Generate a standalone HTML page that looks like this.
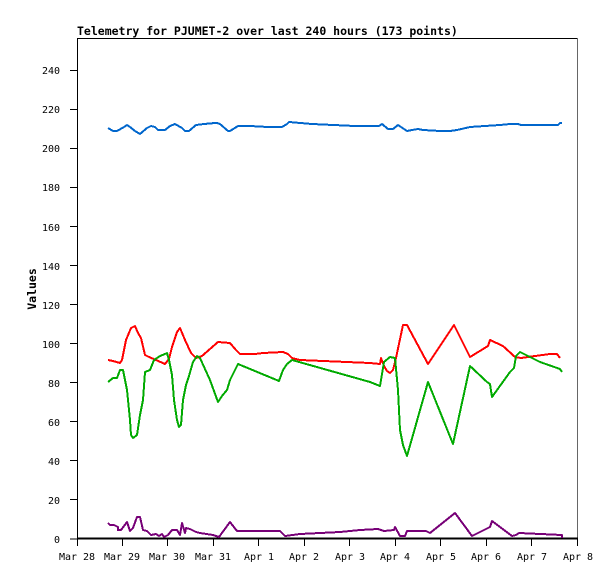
<!DOCTYPE html>
<html><head><meta charset="utf-8"><style>
html,body{margin:0;padding:0;background:#fff;width:615px;height:579px;overflow:hidden}
svg text{font-family:"DejaVu Sans Mono","Liberation Mono",monospace;font-size:10px;fill:#000}
</style></head><body>
<svg width="615" height="579" xmlns="http://www.w3.org/2000/svg">
<text x="77" y="35" style="font-weight:bold;font-size:11.5px">Telemetry for PJUMET-2 over last 240 hours (173 points)</text>
<text transform="translate(36,289) rotate(-90)" text-anchor="middle" style="font-weight:bold;font-size:11.5px">Values</text>
<g shape-rendering="crispEdges">
<line x1="77.5" y1="38" x2="77.5" y2="539" stroke="#000"/>
<line x1="77" y1="38.5" x2="578" y2="38.5" stroke="#000"/>
<line x1="577.5" y1="38" x2="577.5" y2="545" stroke="#666"/>
<g stroke="#000" stroke-width="1">
<line x1="70" y1="539" x2="77" y2="539"/><line x1="70" y1="499.5" x2="77" y2="499.5"/><line x1="70" y1="460.5" x2="77" y2="460.5"/><line x1="70" y1="421.5" x2="77" y2="421.5"/><line x1="70" y1="382.5" x2="77" y2="382.5"/><line x1="70" y1="343.5" x2="77" y2="343.5"/><line x1="70" y1="304.5" x2="77" y2="304.5"/><line x1="70" y1="265.5" x2="77" y2="265.5"/><line x1="70" y1="226.5" x2="77" y2="226.5"/><line x1="70" y1="187.5" x2="77" y2="187.5"/><line x1="70" y1="148.5" x2="77" y2="148.5"/><line x1="70" y1="109.5" x2="77" y2="109.5"/><line x1="70" y1="70.5" x2="77" y2="70.5"/>
</g>
<g stroke="#000">
<line x1="77.5" y1="539" x2="77.5" y2="546"/><line x1="122.5" y1="539" x2="122.5" y2="546"/><line x1="167.5" y1="539" x2="167.5" y2="546"/><line x1="213.5" y1="539" x2="213.5" y2="546"/><line x1="258.5" y1="539" x2="258.5" y2="546"/><line x1="304.5" y1="539" x2="304.5" y2="546"/><line x1="349.5" y1="539" x2="349.5" y2="546"/><line x1="395.5" y1="539" x2="395.5" y2="546"/><line x1="440.5" y1="539" x2="440.5" y2="546"/><line x1="486.5" y1="539" x2="486.5" y2="546"/><line x1="531.5" y1="539" x2="531.5" y2="546"/><line x1="577.5" y1="539" x2="577.5" y2="546"/>
</g>
</g>
<g text-anchor="end">
<text x="60" y="543">0</text><text x="60" y="504">20</text><text x="60" y="465">40</text><text x="60" y="426">60</text><text x="60" y="387">80</text><text x="60" y="348">100</text><text x="60" y="309">120</text><text x="60" y="270">140</text><text x="60" y="231">160</text><text x="60" y="191">180</text><text x="60" y="152">200</text><text x="60" y="113">220</text><text x="60" y="74">240</text>
</g>
<g text-anchor="middle">
<text x="77" y="560">Mar 28</text><text x="122" y="560">Mar 29</text><text x="167" y="560">Mar 30</text><text x="213" y="560">Mar 31</text><text x="259" y="560">Apr 1</text><text x="304" y="560">Apr 2</text><text x="350" y="560">Apr 3</text><text x="395" y="560">Apr 4</text><text x="441" y="560">Apr 5</text><text x="486" y="560">Apr 6</text><text x="532" y="560">Apr 7</text><text x="578" y="560">Apr 8</text>
</g>
<line x1="77" y1="538.5" x2="578" y2="538.5" stroke="#000" stroke-width="2" shape-rendering="crispEdges"/>
<g fill="none" stroke-width="2" stroke-linejoin="round" shape-rendering="crispEdges">
<polyline stroke="#0066cc" points="108,128 113,131 117,131 124,127 127,125 130,127 135,131 140,134 147,128 151,126 155,127 158,130 165,130 170,126 175,124 182,128 185,131 189,131 196,125 204,124 215,123 217,123 220,124 228,131 230,131 238,126 250,126 268,127 282,127 287,124 289,122 312,124 355,126 379,126 382,124 388,129 393,129 398,125 407,131 412,130 418,129 423,130 440,131 450,131 457,130 470,127 500,125 510,124 518,124 521,125 558,125 560,123 562,123"/>
<polyline stroke="#ff0000" points="108,360 113,361 120,363 122,360 126,340 131,328 135,326 138,333 141,338 145,355 149,357 156,360 165,364 169,359 172,347 177,332 180,328 185,340 191,353 196,358 202,356 218,342 230,343 236,350 240,354 255,354 263,353 283,352 288,354 292,358 300,360 370,363 380,364 381,358 384,366 387,371 390,373 393,370 396,358 403,325 407,325 428,364 454,325 470,357 488,346 490,340 503,346 515,357 521,358 535,356 550,354 557,354 560,358"/>
<polyline stroke="#00aa00" points="108,382 113,378 117,378 120,370 123,370 127,390 130,420 131,435 133,438 137,435 140,415 143,400 145,372 150,370 154,360 160,356 165,354 167,353 169,360 172,375 174,400 177,420 179,427 181,425 183,400 186,385 189,376 193,362 197,356 200,358 210,380 218,402 222,396 227,390 230,380 238,364 279,381 283,370 287,364 292,360 370,382 380,386 384,362 390,357 395,358 398,390 400,430 403,445 407,456 428,382 453,444 470,366 487,382 490,384 492,397 510,372 514,368 516,356 520,352 540,362 560,369 562,372"/>
<polyline stroke="#770077" points="108,523 110,525 114,525 118,527 118,530 121,530 127,522 130,531 133,528 137,517 140,517 143,530 147,531 151,535 156,534 159,536 162,534 164,537 168,535 172,530 177,530 180,535 182,523 185,533 186,528 190,529 196,532 200,533 213,535 219,537 230,522 237,531 250,531 280,531 285,536 300,534 340,532 360,530 378,529 384,531 394,530 395,527 400,536 405,536 407,531 426,531 430,533 455,513 472,536 490,527 492,521 512,536 516,535 519,533 562,535 562,538"/>
</g>
</svg>
</body></html>
